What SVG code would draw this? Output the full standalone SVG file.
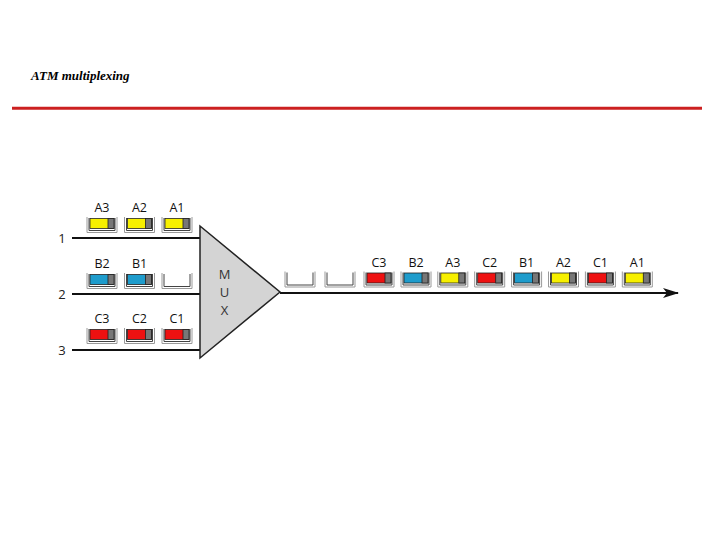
<svg xmlns="http://www.w3.org/2000/svg" xmlns:xlink="http://www.w3.org/1999/xlink" width="720" height="540" viewBox="0 0 720 540">
<style>
.lbl{font-family:"Open Sans","DejaVu Sans",sans-serif;font-size:12.5px;fill:#111;text-anchor:middle}
.num{font-family:"Open Sans","DejaVu Sans",sans-serif;font-size:13px;fill:#222;text-anchor:middle}
.mux{font-family:"Open Sans","DejaVu Sans",sans-serif;font-size:13px;fill:#333;text-anchor:middle}
.title{font-family:"Liberation Serif",serif;font-style:italic;font-weight:bold;font-size:13px;fill:#000}
.wire{stroke:#111;stroke-width:2;fill:none}
.y{fill:#f7f000}.b{fill:#1e9ccc}.r{fill:#ee1111}
.body{stroke:#222;stroke-width:0.8}
</style>
<defs>
<g id="slot">
<path d="M0,0V15.5H30V0" fill="none" stroke="#9a9a9a" stroke-width="1"/>
<path d="M2,1V13.5H28V1" fill="#fff" stroke="#444" stroke-width="1"/>
</g>
<rect id="tail" x="21" y="1.5" width="6" height="10" fill="#777" stroke="#222" stroke-width="0.8"/>
<marker id="arr" viewBox="0 0 16 10" refX="15" refY="5" markerWidth="16" markerHeight="10" markerUnits="userSpaceOnUse" orient="auto">
<path d="M0,0L16,5L0,10L4,5Z" fill="#111"/>
</marker>
</defs>
<text class="title" x="31" y="80">ATM multiplexing</text>
<line x1="12" y1="108.3" x2="702" y2="108.3" stroke="#cc2020" stroke-width="3"/>

<g id="connectors">
<line class="wire" x1="72" y1="238" x2="200" y2="238"/>
<line class="wire" x1="72" y1="294" x2="200" y2="294"/>
<line class="wire" x1="72" y1="350" x2="200" y2="350"/>
<line class="wire" x1="280" y1="293" x2="678" y2="293" marker-end="url(#arr)"/>
</g>

<g id="input1">
<text class="num" x="62" y="243">1</text>
<g transform="translate(87,217)"><use xlink:href="#slot"/><rect class="y body" x="3" y="1.5" width="24" height="10"/><use xlink:href="#tail"/><text class="lbl" x="15" y="-5">A3</text></g>
<g transform="translate(124.5,217)"><use xlink:href="#slot"/><rect class="y body" x="3" y="1.5" width="24" height="10"/><use xlink:href="#tail"/><text class="lbl" x="15" y="-5">A2</text></g>
<g transform="translate(162,217)"><use xlink:href="#slot"/><rect class="y body" x="3" y="1.5" width="24" height="10"/><use xlink:href="#tail"/><text class="lbl" x="15" y="-5">A1</text></g>
</g>

<g id="input2">
<text class="num" x="62" y="299">2</text>
<g transform="translate(87,273)"><use xlink:href="#slot"/><rect class="b body" x="3" y="1.5" width="24" height="10"/><use xlink:href="#tail"/><text class="lbl" x="15" y="-5">B2</text></g>
<g transform="translate(124.5,273)"><use xlink:href="#slot"/><rect class="b body" x="3" y="1.5" width="24" height="10"/><use xlink:href="#tail"/><text class="lbl" x="15" y="-5">B1</text></g>
<g transform="translate(162,273)"><use xlink:href="#slot"/></g>
</g>

<g id="input3">
<text class="num" x="62" y="355">3</text>
<g transform="translate(87,328)"><use xlink:href="#slot"/><rect class="r body" x="3" y="1.5" width="24" height="10"/><use xlink:href="#tail"/><text class="lbl" x="15" y="-5">C3</text></g>
<g transform="translate(124.5,328)"><use xlink:href="#slot"/><rect class="r body" x="3" y="1.5" width="24" height="10"/><use xlink:href="#tail"/><text class="lbl" x="15" y="-5">C2</text></g>
<g transform="translate(162,328)"><use xlink:href="#slot"/><rect class="r body" x="3" y="1.5" width="24" height="10"/><use xlink:href="#tail"/><text class="lbl" x="15" y="-5">C1</text></g>
</g>

<g id="mux">
<polygon points="200,226 200,358 280,292" fill="#d4d4d4" stroke="#222" stroke-width="1.5" stroke-linejoin="miter"/>
<text class="mux" x="224.5" y="279">M</text>
<text class="mux" x="224.5" y="297">U</text>
<text class="mux" x="224.5" y="315">X</text>
</g>

<g id="output">
<g transform="translate(285,271.5)"><use xlink:href="#slot"/></g>
<g transform="translate(325,271.5)"><use xlink:href="#slot"/></g>
<g transform="translate(364,271.5)"><use xlink:href="#slot"/><rect class="r body" x="3" y="1.5" width="24" height="10"/><use xlink:href="#tail"/><text class="lbl" x="15" y="-5">C3</text></g>
<g transform="translate(401,271.5)"><use xlink:href="#slot"/><rect class="b body" x="3" y="1.5" width="24" height="10"/><use xlink:href="#tail"/><text class="lbl" x="15" y="-5">B2</text></g>
<g transform="translate(437.8,271.5)"><use xlink:href="#slot"/><rect class="y body" x="3" y="1.5" width="24" height="10"/><use xlink:href="#tail"/><text class="lbl" x="15" y="-5">A3</text></g>
<g transform="translate(474.7,271.5)"><use xlink:href="#slot"/><rect class="r body" x="3" y="1.5" width="24" height="10"/><use xlink:href="#tail"/><text class="lbl" x="15" y="-5">C2</text></g>
<g transform="translate(511.6,271.5)"><use xlink:href="#slot"/><rect class="b body" x="3" y="1.5" width="24" height="10"/><use xlink:href="#tail"/><text class="lbl" x="15" y="-5">B1</text></g>
<g transform="translate(548.5,271.5)"><use xlink:href="#slot"/><rect class="y body" x="3" y="1.5" width="24" height="10"/><use xlink:href="#tail"/><text class="lbl" x="15" y="-5">A2</text></g>
<g transform="translate(585.4,271.5)"><use xlink:href="#slot"/><rect class="r body" x="3" y="1.5" width="24" height="10"/><use xlink:href="#tail"/><text class="lbl" x="15" y="-5">C1</text></g>
<g transform="translate(622.3,271.5)"><use xlink:href="#slot"/><rect class="y body" x="3" y="1.5" width="24" height="10"/><use xlink:href="#tail"/><text class="lbl" x="15" y="-5">A1</text></g>
</g>
</svg>
